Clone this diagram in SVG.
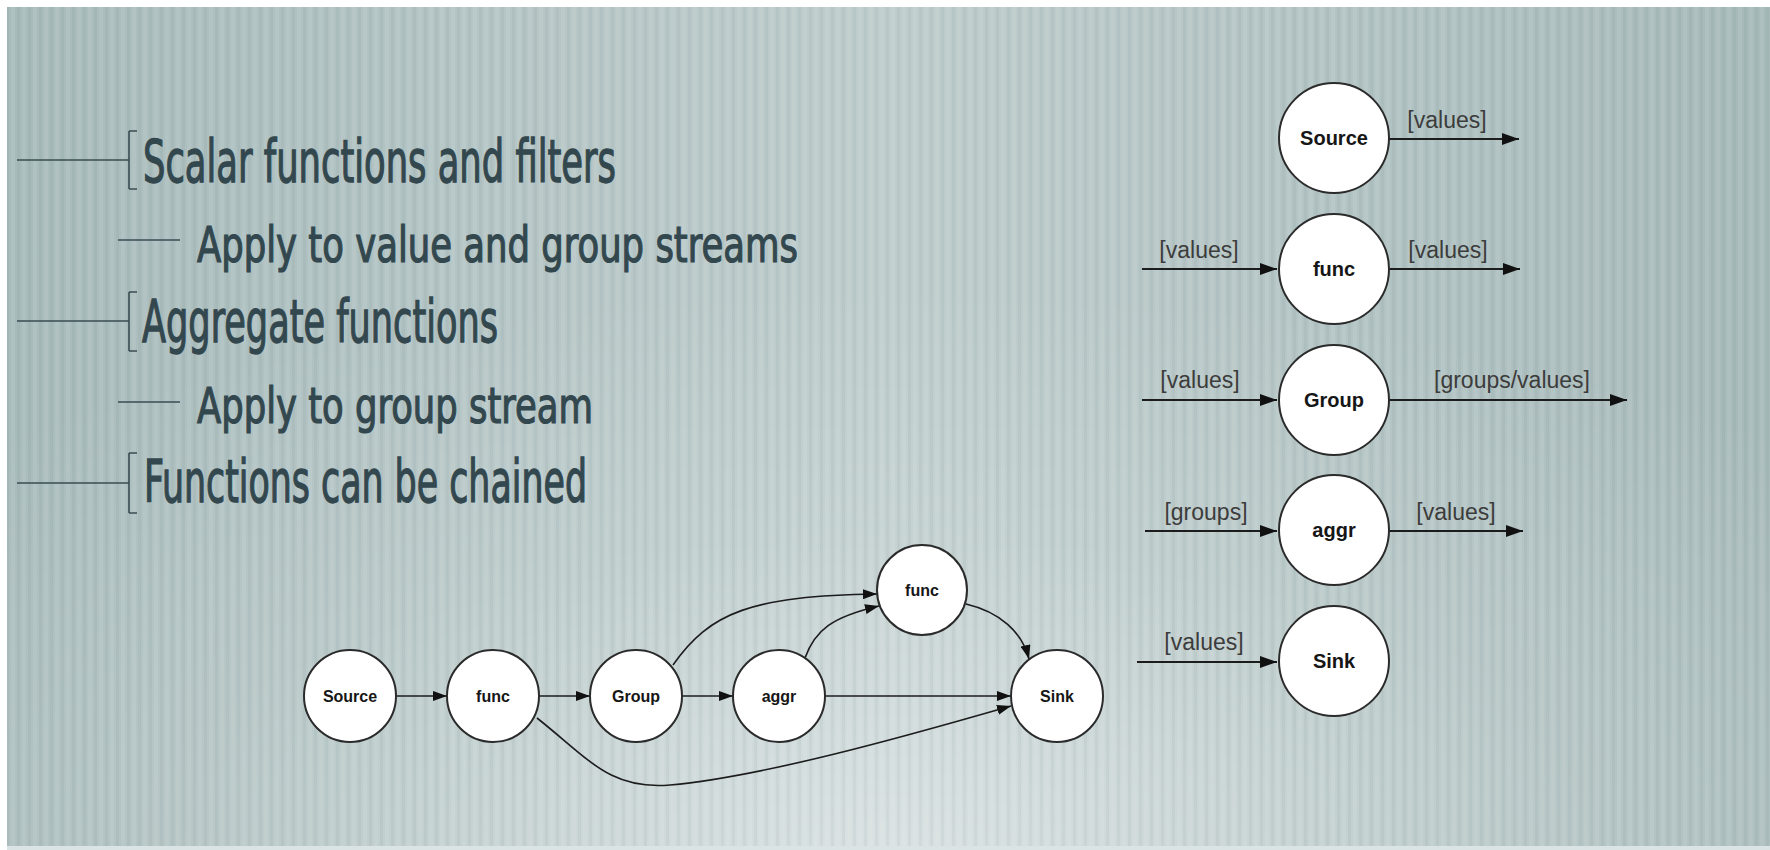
<svg xmlns="http://www.w3.org/2000/svg" width="1770" height="850" viewBox="0 0 1770 850">
  <style>
    .t1 { font-family: "Liberation Sans Narrow", "DejaVu Sans Condensed", "Liberation Sans", sans-serif; font-size: 58px; fill: #33474e; stroke: #33474e; stroke-width: 1.3; }
    .t2 { font-family: "Liberation Sans Narrow", "DejaVu Sans Condensed", "Liberation Sans", sans-serif; font-size: 50px; fill: #33474e; stroke: #33474e; stroke-width: 1.2; }
    .rule { stroke: #3a4d53; stroke-width: 1.6; fill: none; }
    .node circle { fill: #ffffff; stroke: #2b2b2b; stroke-width: 2; }
    .nlab { font-family: "Liberation Sans", Arial, sans-serif; font-weight: bold; text-anchor: middle; fill: #161616; }
    .big { font-size: 20px; }
    .small { font-size: 16px; }
    .elab { font-family: "Liberation Sans", Arial, sans-serif; font-size: 23px; fill: #3c3c3c; text-anchor: middle; }
    .edge { stroke: #1c1c1c; stroke-width: 2; fill: none; marker-end: url(#ah); }
    .flow { stroke: #1c1c1c; stroke-width: 1.6; fill: none; marker-end: url(#ahs); }
  </style>
  <defs>
    <linearGradient id="bgH" x1="0" y1="0" x2="1" y2="0">
      <stop offset="0" stop-color="#a8bbbb"/>
      <stop offset="0.5" stop-color="#bfcdcd"/>
      <stop offset="1" stop-color="#a7baba"/>
    </linearGradient>
    <radialGradient id="glow" cx="0.5" cy="1" r="0.75" gradientTransform="translate(0.5 1) scale(1 0.9) translate(-0.5 -1)">
      <stop offset="0" stop-color="#ffffff" stop-opacity="0.42"/>
      <stop offset="0.55" stop-color="#ffffff" stop-opacity="0.12"/>
      <stop offset="1" stop-color="#ffffff" stop-opacity="0"/>
    </radialGradient>
    <pattern id="stripes" width="11" height="20" patternUnits="userSpaceOnUse">
      <rect x="0" y="0" width="4" height="20" fill="#ffffff" opacity="0.08"/>
      <rect x="6" y="0" width="3" height="20" fill="#37504f" opacity="0.05"/>
    </pattern>
    <marker id="ah" viewBox="0 0 17 12" refX="17" refY="6" markerWidth="17" markerHeight="12" markerUnits="userSpaceOnUse" orient="auto">
      <path d="M0,0 L17,6 L0,12 z" fill="#111"/>
    </marker>
    <marker id="ahs" viewBox="0 0 14 10" refX="14" refY="5" markerWidth="14" markerHeight="10" markerUnits="userSpaceOnUse" orient="auto">
      <path d="M0,0 L14,5 L0,10 z" fill="#111"/>
    </marker>
  </defs>

  <!-- background panel -->
  <rect x="0" y="0" width="1770" height="850" fill="#ffffff"/>
  <rect x="7" y="7" width="1763" height="843" fill="url(#bgH)"/>
  <rect x="7" y="7" width="1763" height="843" fill="url(#glow)"/>
  <rect x="7" y="7" width="1763" height="843" fill="url(#stripes)"/>
  <rect x="7" y="846" width="1763" height="4" fill="#dbe4e4"/>

  <!-- bullet outline -->
  <g id="bullets">
    <path class="rule" d="M17 160 H129 M129 131 V189 M129 131 H137 M129 189 H137"/>
    <text class="t1" x="143" y="182" textLength="473" lengthAdjust="spacingAndGlyphs">Scalar functions and filters</text>
    <path class="rule" d="M118 240 H180"/>
    <text class="t2" x="197" y="262" textLength="601" lengthAdjust="spacingAndGlyphs">Apply to value and group streams</text>
    <path class="rule" d="M17 321 H129 M129 292 V351 M129 292 H137 M129 351 H137"/>
    <text class="t1" x="142" y="342" textLength="356" lengthAdjust="spacingAndGlyphs">Aggregate functions</text>
    <path class="rule" d="M118 402 H180"/>
    <text class="t2" x="197" y="423" textLength="396" lengthAdjust="spacingAndGlyphs">Apply to group stream</text>
    <path class="rule" d="M17 483 H129 M129 453 V513 M129 453 H137 M129 513 H137"/>
    <text class="t1" x="144" y="502" textLength="443" lengthAdjust="spacingAndGlyphs">Functions can be chained</text>
  </g>

  <!-- legend: operator kinds with their stream types -->
  <g id="legend-connectors">
    <path class="edge" d="M1389 139 H1519"/>
    <path class="edge" d="M1142 269 H1277"/>
    <path class="edge" d="M1389 269 H1520"/>
    <path class="edge" d="M1142 400 H1277"/>
    <path class="edge" d="M1389 400 H1627"/>
    <path class="edge" d="M1145 531 H1277"/>
    <path class="edge" d="M1389 531 H1523"/>
    <path class="edge" d="M1137 662 H1277"/>
  </g>
  <g id="legend-labels">
    <text class="elab" x="1447" y="128">[values]</text>
    <text class="elab" x="1199" y="258">[values]</text>
    <text class="elab" x="1448" y="258">[values]</text>
    <text class="elab" x="1200" y="388">[values]</text>
    <text class="elab" x="1512" y="388">[groups/values]</text>
    <text class="elab" x="1206" y="520">[groups]</text>
    <text class="elab" x="1456" y="520">[values]</text>
    <text class="elab" x="1204" y="650">[values]</text>
  </g>
  <g id="legend-source" class="node">
    <circle cx="1334" cy="138" r="55"/>
    <text class="nlab big" x="1334" y="145">Source</text>
  </g>
  <g id="legend-func" class="node">
    <circle cx="1334" cy="269" r="55"/>
    <text class="nlab big" x="1334" y="276">func</text>
  </g>
  <g id="legend-group" class="node">
    <circle cx="1334" cy="400" r="55"/>
    <text class="nlab big" x="1334" y="407">Group</text>
  </g>
  <g id="legend-aggr" class="node">
    <circle cx="1334" cy="530" r="55"/>
    <text class="nlab big" x="1334" y="537">aggr</text>
  </g>
  <g id="legend-sink" class="node">
    <circle cx="1334" cy="661" r="55"/>
    <text class="nlab big" x="1334" y="668">Sink</text>
  </g>

  <!-- chained pipeline -->
  <g id="pipeline-connectors">
    <path class="flow" d="M396 696 H447"/>
    <path class="flow" d="M539 696 H590"/>
    <path class="flow" d="M682 696 H733"/>
    <path class="flow" d="M825 696 H1011"/>
    <path class="flow" d="M537 718 C590 760 610 790 670 785 C760 777 900 738 1011 706"/>
    <path class="flow" d="M673 665 C710 612 752 596 877 594"/>
    <path class="flow" d="M805 658 C815 630 832 617 879 606"/>
    <path class="flow" d="M966 604 C1000 612 1022 632 1029 659"/>
  </g>
  <g id="pipe-source" class="node">
    <circle cx="350" cy="696" r="46"/>
    <text class="nlab small" x="350" y="702">Source</text>
  </g>
  <g id="pipe-func" class="node">
    <circle cx="493" cy="696" r="46"/>
    <text class="nlab small" x="493" y="702">func</text>
  </g>
  <g id="pipe-group" class="node">
    <circle cx="636" cy="696" r="46"/>
    <text class="nlab small" x="636" y="702">Group</text>
  </g>
  <g id="pipe-aggr" class="node">
    <circle cx="779" cy="696" r="46"/>
    <text class="nlab small" x="779" y="702">aggr</text>
  </g>
  <g id="pipe-func2" class="node">
    <circle cx="922" cy="590" r="45"/>
    <text class="nlab small" x="922" y="596">func</text>
  </g>
  <g id="pipe-sink" class="node">
    <circle cx="1057" cy="696" r="46"/>
    <text class="nlab small" x="1057" y="702">Sink</text>
  </g>
</svg>
